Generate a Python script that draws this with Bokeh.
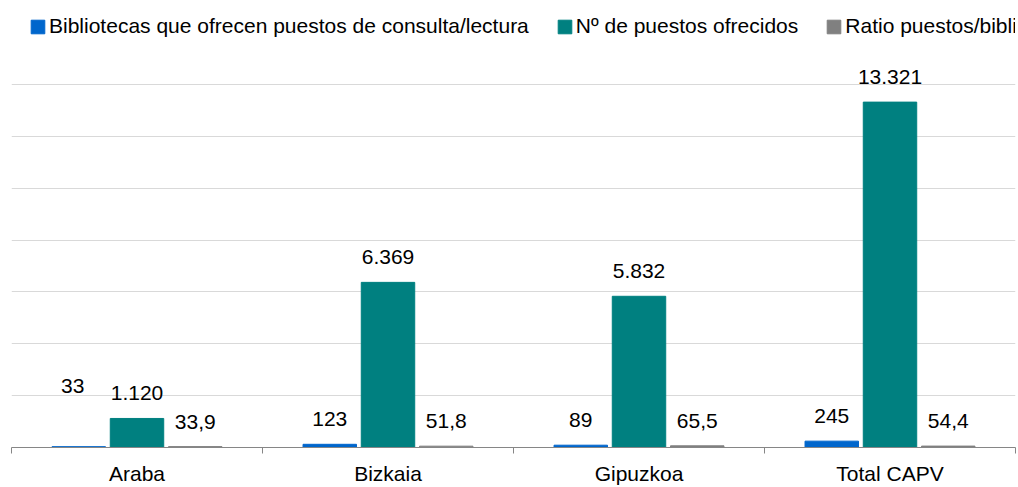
from bokeh.plotting import figure
from bokeh.models import (Range1d, FixedTicker, Legend, LegendItem, ColumnDataSource,
                          LinearAxis, Grid)
from bokeh.embed import file_html
from bokeh.resources import INLINE
from bokeh.core.properties import value

# ---------------- data ----------------
categories = ["Araba", "Bizkaia", "Gipuzkoa", "Total CAPV"]
bibliotecas = [33, 123, 89, 245]
puestos = [1120, 6369, 5832, 13321]
ratio = [33.9, 51.8, 65.5, 54.4]
series_names = ["Bibliotecas que ofrecen puestos de consulta/lectura",
                "Nº de puestos ofrecidos",
                "Ratio puestos/biblioteca"]
grid_values = [2000, 4000, 6000, 8000, 10000, 12000, 14000]

# ---------------- style ----------------
FONT = "Liberation Sans"
colors = ["#0066CC", "#008080", "#808080"]
dodge = [-0.232, 0.0, 0.232]
bar_width = 0.213
label_dy = -25


def fmt_int(v):
    return f"{v:,}".replace(",", ".")


def fmt_dec(v):
    return f"{v:.1f}".replace(".", ",")


series_values = [bibliotecas, puestos, ratio]
series_fmt = [fmt_int, fmt_int, fmt_dec]
# manual label nudges (series index, category index) -> (dx, dy) in px
label_nudges = {(0, 0): (-6, -36)}

p = figure(width=1018, height=487,
           x_range=Range1d(0, 4), y_range=Range1d(0, 17240),
           x_axis_location=None, y_axis_location=None,
           output_backend="svg", toolbar_location=None,
           min_border_left=11, min_border_right=3, min_border_top=0, min_border_bottom=0)
p.outline_line_color = None
p.grid.visible = False
p.background_fill_color = "white"
p.border_fill_color = "white"

p.add_layout(Grid(dimension=1, ticker=FixedTicker(ticks=grid_values),
                  grid_line_color="#d9d9d9", grid_line_width=1), "center")

centers = [i + 0.5 for i in range(len(categories))]
bounds = [float(i) for i in range(len(categories) + 1)]

xaxis = LinearAxis(ticker=FixedTicker(ticks=centers, minor_ticks=bounds),
                   major_label_overrides={c: n for c, n in zip(centers, categories)},
                   major_tick_out=0, major_tick_in=0,
                   minor_tick_out=6, minor_tick_in=0,
                   axis_line_color="#868686", minor_tick_line_color="#868686",
                   major_label_text_font=FONT, major_label_text_font_size="21px",
                   major_label_text_color="#000000", major_label_standoff=8)
p.add_layout(xaxis, "below")

items = []
for s, (vals, name, col, dx, fmt) in enumerate(zip(series_values, series_names, colors, dodge, series_fmt)):
    xs = [c + dx for c in centers]
    xo = [label_nudges.get((s, i), (0, 0))[0] for i in range(len(vals))]
    yo = [label_dy + label_nudges.get((s, i), (0, 0))[1] for i in range(len(vals))]
    src = ColumnDataSource(dict(x=xs, top=vals, lab=[fmt(v) for v in vals], xo=xo, yo=yo))
    r = p.vbar(x="x", top="top", width=bar_width, source=src,
               fill_color=col, line_color=col, line_width=1)
    p.text(x="x", y="top", text="lab", source=src, x_offset="xo", y_offset="yo",
           text_align="center", text_baseline="alphabetic",
           text_font=value(FONT), text_font_size="21px", text_color="#000000")
    items.append(LegendItem(label=name, renderers=[r]))

legend = Legend(items=items, location=(18, 409), orientation="horizontal",
                glyph_width=17, glyph_height=17, label_standoff=3, spacing=27,
                padding=0, margin=0, border_line_color=None, background_fill_alpha=0,
                label_text_font=FONT, label_text_font_size="21px", label_text_color="#000000")
p.add_layout(legend, "center")

open("out.html", "w").write(file_html(p, INLINE))
